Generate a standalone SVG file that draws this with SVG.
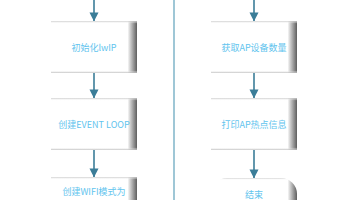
<svg xmlns="http://www.w3.org/2000/svg" width="356" height="200" viewBox="0 0 356 200">
<defs>
<linearGradient id="shade" x1="0" y1="0" x2="1" y2="0">
<stop offset="0" stop-color="#ffffff"/>
<stop offset="0.89" stop-color="#ffffff"/>
<stop offset="0.92" stop-color="#d0d0d0"/>
<stop offset="1" stop-color="#5e5e5e"/>
</linearGradient>
<linearGradient id="vshade" x1="0" y1="0" x2="0" y2="1">
<stop offset="0" stop-color="#c8c8c8" stop-opacity="0.9"/>
<stop offset="0.05" stop-color="#ffffff" stop-opacity="0"/>
<stop offset="0.95" stop-color="#ffffff" stop-opacity="0"/>
<stop offset="1" stop-color="#b8b8b8" stop-opacity="0.9"/>
</linearGradient>
<marker id="arr" markerWidth="9" markerHeight="10" refX="8.6" refY="4.5" orient="auto" markerUnits="userSpaceOnUse">
<path d="M0,0 L9,4.5 L0,9 Z" fill="#3b7d98"/>
</marker>
<style>
.box{fill:url(#shade);}
.edge{fill:url(#vshade);}
.lbl{font-family:"Noto Sans CJK SC","Noto Sans",sans-serif;font-size:9px;fill:#62c4ee;text-anchor:middle;dominant-baseline:central;}
.con{stroke:#3b7d98;stroke-width:1.6;fill:none;marker-end:url(#arr);}
</style>
</defs>
<rect width="356" height="200" fill="#ffffff"/>
<line x1="174" y1="0" x2="174" y2="200" stroke="#7fb4c9" stroke-width="1.5"/>
<g id="connectors">
<line class="con" x1="94" y1="0" x2="94" y2="21"/>
<line class="con" x1="94" y1="73" x2="94" y2="98"/>
<line class="con" x1="94" y1="150" x2="94" y2="177"/>
<line class="con" x1="254" y1="0" x2="254" y2="21"/>
<line class="con" x1="254" y1="73" x2="254" y2="98"/>
<line class="con" x1="254" y1="150" x2="254" y2="178"/>
</g>
<g id="n1">
<rect class="box" x="51" y="21" width="86" height="52"/>
<rect class="edge" x="51" y="21" width="86" height="52"/>
<text class="lbl" x="94" y="47">初始化lwIP</text>
</g>
<g id="n2">
<rect class="box" x="51" y="98" width="86" height="52"/>
<rect class="edge" x="51" y="98" width="86" height="52"/>
<text class="lbl" x="94" y="124">创建EVENT LOOP</text>
</g>
<g id="n3">
<rect class="box" x="51" y="177" width="86" height="52"/>
<rect class="edge" x="51" y="177" width="86" height="52"/>
<text class="lbl" x="94" y="191">创建WIFI模式为</text>
<text class="lbl" x="94" y="204">STA，初始化WiFi</text>
</g>
<g id="n4">
<rect class="box" x="211" y="21" width="86" height="52"/>
<rect class="edge" x="211" y="21" width="86" height="52"/>
<text class="lbl" x="254" y="47">获取AP设备数量</text>
</g>
<g id="n5">
<rect class="box" x="211" y="98" width="86" height="52"/>
<rect class="edge" x="211" y="98" width="86" height="52"/>
<text class="lbl" x="254" y="124">打印AP热点信息</text>
</g>
<g id="n6">
<rect class="box" x="211" y="178" width="86" height="40" rx="16" ry="16"/>
<rect class="edge" x="211" y="178" width="86" height="40" rx="16" ry="16"/>
<text class="lbl" x="254" y="194">结束</text>
</g>
</svg>
